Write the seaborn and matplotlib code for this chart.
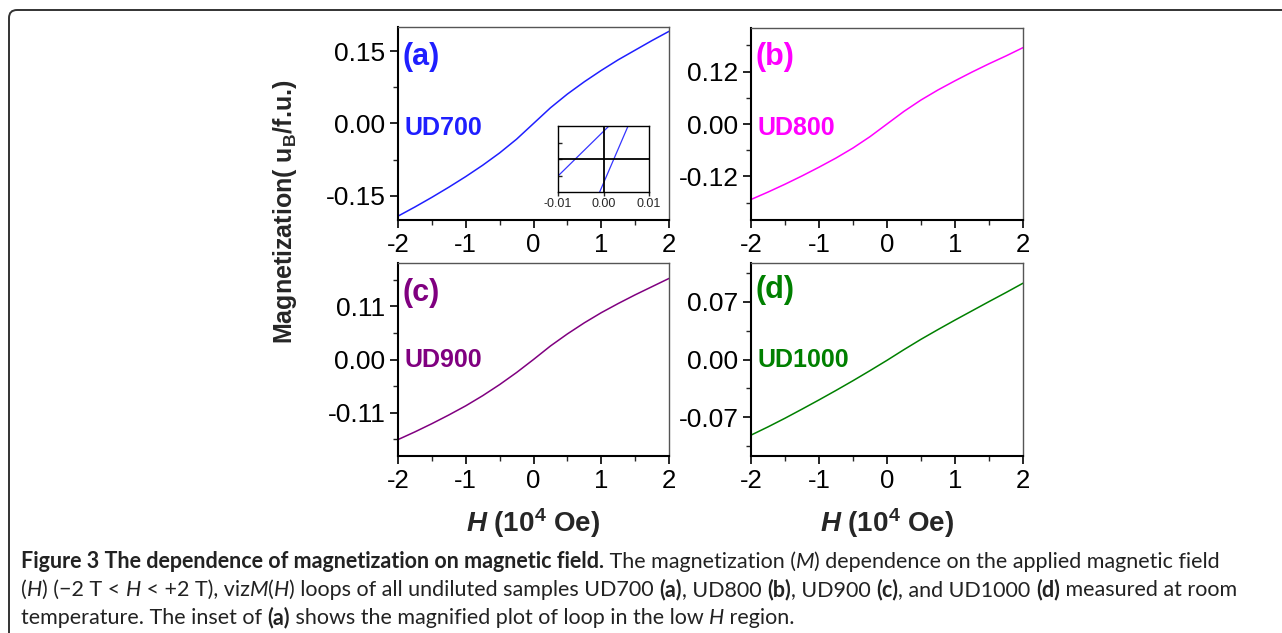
import numpy as np
import pandas as pd
import seaborn as sns
import matplotlib.pyplot as plt
from matplotlib.ticker import FixedLocator, FormatStrFormatter
from matplotlib.path import Path
from matplotlib.patches import PathPatch
from matplotlib.transforms import IdentityTransform

# data (H in 1e4 Oe, M in uB/f.u.)
H_grid = [-2, -1.75, -1.5, -1.25, -1, -0.75, -0.5, -0.25, 0,
          0.25, 0.5, 0.75, 1, 1.25, 1.5, 1.75, 2]
M_a = [-0.192, -0.173, -0.153, -0.132, -0.110, -0.0865, -0.061, -0.0325, 0.0,
       0.0325, 0.061, 0.0865, 0.110, 0.132, 0.152, 0.172, 0.191]
M_b = [-0.173, -0.156, -0.138, -0.119, -0.099, -0.078, -0.055, -0.029, 0.0,
       0.029, 0.055, 0.078, 0.099, 0.119, 0.138, 0.156, 0.175]
M_c = [-0.166, -0.150, -0.133, -0.115, -0.096, -0.075, -0.052, -0.027, 0.0,
       0.028, 0.053, 0.076, 0.097, 0.116, 0.134, 0.151, 0.168]
M_d = [-0.0917, -0.0817, -0.0712, -0.0602, -0.0490, -0.0375, -0.0257, -0.0135, -0.0010,
       0.0120, 0.0245, 0.0363, 0.0478, 0.0590, 0.0702, 0.0812, 0.0925]

# inset of (a): the two branches of the loop near H = 0
inset_H1 = [-0.01, 0.0012]
inset_M1 = [-0.00103, 0.002]
inset_H2 = [-0.00084, 0.0054]
inset_M2 = [-0.002, 0.002]

xticks = [-2, -1, 0, 1, 2]
xminor = [-1.5, -0.5, 0.5, 1.5]
inset_xticks = [-0.01, 0.0, 0.01]

sns.set_style("ticks")
plt.rcParams['font.family'] = ['Liberation Sans', 'DejaVu Sans']
plt.rcParams['axes.unicode_minus'] = False
plt.rcParams['mathtext.fontset'] = 'custom'
plt.rcParams['mathtext.rm'] = 'Liberation Sans:bold'
plt.rcParams['mathtext.bf'] = 'Liberation Sans:bold'
plt.rcParams['mathtext.it'] = 'Liberation Sans:bold:italic'

W, Hpx = 1282, 633
fig = plt.figure(figsize=(W / 100, Hpx / 100), dpi=100)

def px_box(x0, y0, x1, y1):
    return [x0 / W, 1 - y1 / Hpx, (x1 - x0) / W, (y1 - y0) / Hpx]

panels = [
    ('(a)', 'UD700', M_a, '#1f1fff', 0.15, 0.20, px_box(398, 27, 669, 220), 0.845, 0.477),
    ('(b)', 'UD800', M_b, '#ff00ff', 0.12, 0.22, px_box(751, 28, 1023, 220), 0.85, 0.477),
    ('(c)', 'UD900', M_c, '#800080', 0.11, 0.20, px_box(398, 263, 669, 456), 0.845, 0.497),
    ('(d)', 'UD1000', M_d, '#008000', 0.07, 0.117, px_box(751, 263, 1023, 456), 0.86, 0.497),
]

axes = []
for tag, name, mm, col, step, lim, box, ytag, yname in panels:
    ax = fig.add_axes(box)
    df = pd.DataFrame({'H': H_grid, 'M': mm})
    sns.lineplot(data=df, x='H', y='M', ax=ax, color=col, linewidth=1.1, estimator=None)
    ax.set_xlim(-2, 2)
    ax.set_ylim(-lim, lim)
    ax.set_xticks(xticks)
    ax.xaxis.set_minor_locator(FixedLocator(xminor))
    ax.set_yticks([-step, 0, step])
    ax.yaxis.set_minor_locator(FixedLocator([-1.5 * step, -0.5 * step, 0.5 * step, 1.5 * step]))
    ax.yaxis.set_major_formatter(FormatStrFormatter('%.2f'))
    ax.xaxis.set_major_formatter(FormatStrFormatter('%d'))
    ax.tick_params(which='major', direction='out', length=6, width=1.2, pad=3, colors='black')
    ax.tick_params(axis='y', which='major', labelsize=19)
    ax.tick_params(axis='x', which='major', labelsize=18.5)
    ax.tick_params(which='minor', direction='out', length=3.5, width=1.0)
    ax.set_xlabel('')
    ax.set_ylabel('')
    for s in ['left', 'bottom']:
        ax.spines[s].set_linewidth(1.5)
        ax.spines[s].set_color('black')
    for s in ['top', 'right']:
        ax.spines[s].set_linewidth(1.0)
        ax.spines[s].set_color('#555555')
    ax.text(0.018, ytag, tag, transform=ax.transAxes, color=col, fontsize=22,
            fontweight='bold', va='center', ha='left')
    ax.text(0.025, yname, name, transform=ax.transAxes, color=col, fontsize=18,
            fontweight='bold', va='center', ha='left')
    axes.append(ax)

for ax in axes[2:]:
    ax.set_xlabel(r'$H$ (10$^4$ Oe)', fontsize=20, fontweight='bold')
    ax.xaxis.set_label_coords(0.5, -0.26)

fig.text(285 / W, 1 - 212 / Hpx, r'Magnetization( u$_\mathrm{B}$/f.u.)', rotation=90,
         fontsize=18, fontweight='bold', ha='center', va='center')

# inset
axi = fig.add_axes(px_box(558, 126, 649, 192))
sns.lineplot(x=inset_H1, y=inset_M1, ax=axi, color='#3535ff', linewidth=0.9)
sns.lineplot(x=inset_H2, y=inset_M2, ax=axi, color='#3535ff', linewidth=0.9)
axi.axhline(0, color='black', linewidth=1.3)
axi.axvline(0, color='black', linewidth=1.3)
axi.set_xlim(-0.01, 0.01)
axi.set_ylim(-0.002, 0.002)
axi.set_xticks(inset_xticks)
axi.set_xticklabels(['-0.01', '0.00', '0.01'])
axi.set_yticks([-0.001, 0, 0.001])
axi.set_yticklabels([])
axi.tick_params(axis='x', direction='out', length=3, width=1, labelsize=9, pad=1)
axi.tick_params(axis='y', direction='in', length=3, width=1)
for s in axi.spines.values():
    s.set_linewidth(1.0)
    s.set_color('black')

# frame around the figure
verts = [(9, 0), (9, Hpx - 18), (9, Hpx - 10), (17, Hpx - 10), (W + 5, Hpx - 10)]
codes = [Path.MOVETO, Path.LINETO, Path.CURVE3, Path.CURVE3, Path.LINETO]
fig.patches.append(PathPatch(Path(verts, codes), transform=IdentityTransform(),
                             fill=False, edgecolor='#333333', linewidth=1.4))

# caption
cap_font = ['Lato', 'DejaVu Sans']
R, B, I = 'r', 'b', 'i'
line1 = [("Figure 3 The dependence of magnetization on magnetic field.", B),
         (" The magnetization (", R), ("M", I), (") dependence on the applied magnetic field", R)]
line2 = [("(", R), ("H", I), (") (\u22122 T < ", R), ("H", I), (" < +2 T), viz", R), ("M", I),
         ("(", R), ("H", I), (") loops of all undiluted samples UD700 ", R), ("(a)", B),
         (", UD800 ", R), ("(b)", B), (", UD900 ", R), ("(c)", B), (", and UD1000 ", R),
         ("(d)", B), (" measured at room", R)]
line3 = [("temperature. The inset of ", R), ("(a)", B),
         (" shows the magnified plot of loop in the low ", R), ("H", I), (" region.", R)]

renderer = fig.canvas.get_renderer()

def draw_line(segs, x0, base, size):
    x = x0
    made = []
    for txt, st in segs:
        t = fig.text(x / W, 1 - base / Hpx, txt, fontsize=size, family=cap_font,
                     fontweight='bold' if st == B else 'normal',
                     fontstyle='italic' if st == I else 'normal',
                     va='baseline', ha='left', color='#222222')
        bb = t.get_window_extent(renderer)
        x = bb.x1
        made.append(t)
    return x, made

x_end, tmp = draw_line(line1, 21, 568, 12)
for t in tmp:
    t.remove()
size = 12 * (1220 - 21) / (x_end - 21)
draw_line(line1, 21, 568, size)
draw_line(line2, 21, 596, size)
draw_line(line3, 21, 624, size)

fig.savefig('out.png', dpi=100)
